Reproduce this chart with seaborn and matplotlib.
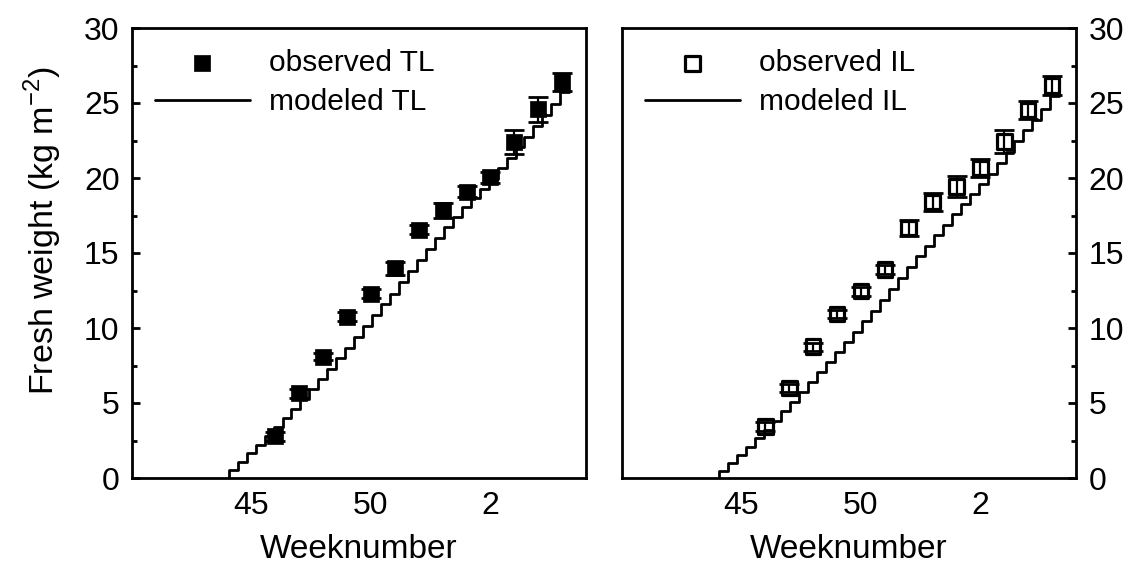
import matplotlib
matplotlib.use("Agg")
import matplotlib.pyplot as plt
from matplotlib.ticker import FixedLocator, MultipleLocator
import seaborn as sns

# Week numbers run on past week 53 into the new year: 54 = week 1, 55 = week 2, ...
obs_week = [46, 47, 48, 49, 50, 51, 52, 53, 54, 55, 56, 57, 58]
obs_TL = [2.8, 5.65, 8.1, 10.74, 12.3, 13.97, 16.56, 17.84, 19.1, 20.04, 22.38, 24.58, 26.4]
se_TL = [0.3, 0.3, 0.25, 0.3, 0.3, 0.45, 0.3, 0.5, 0.35, 0.35, 0.8, 0.85, 0.62]
obs_IL = [3.43, 5.99, 8.75, 10.93, 12.46, 13.9, 16.66, 18.41, 19.42, 20.66, 22.43, 24.52, 26.15]
se_IL = [0.3, 0.25, 0.25, 0.25, 0.3, 0.3, 0.55, 0.6, 0.7, 0.6, 0.75, 0.6, 0.63]

# Simulated crop fresh weight, output every 2.6 days
model_week = [44.05, 44.425, 44.80, 45.175, 45.55, 45.925, 46.30, 46.675, 47.05,
              47.425, 47.80, 48.175, 48.55, 48.925, 49.30, 49.675, 50.05, 50.425,
              50.80, 51.175, 51.55, 51.925, 52.30, 52.675, 53.05, 53.425, 53.80,
              54.175, 54.55, 54.925, 55.30, 55.675, 56.05, 56.425, 56.80, 57.175,
              57.55, 57.925, 58.30]
model_TL = [0.0, 0.53, 1.09, 1.64, 2.20, 2.78, 3.38, 3.98, 4.60, 5.25, 5.92, 6.60,
            7.28, 7.98, 8.68, 9.40, 10.12, 10.85, 11.58, 12.30, 13.05, 13.80, 14.55,
            15.30, 16.02, 16.72, 17.40, 18.05, 18.68, 19.30, 19.95, 20.65, 21.35,
            22.05, 22.75, 23.45, 24.20, 24.95, 25.75]
model_IL = [0.0, 0.50, 1.02, 1.55, 2.10, 2.65, 3.22, 3.82, 4.45, 5.08, 5.72, 6.38,
            7.05, 7.72, 8.40, 9.08, 9.76, 10.45, 11.15, 11.85, 12.58, 13.32, 14.05,
            14.78, 15.50, 16.20, 16.90, 17.58, 18.25, 18.92, 19.60, 20.30, 21.02,
            21.75, 22.48, 23.20, 23.90, 24.60, 25.45]

week_ticks = [45, 50, 55]
week_labels = ["45", "50", "2"]

sns.set_style("white")
plt.rcParams["font.family"] = ["Liberation Sans", "DejaVu Sans"]
plt.rcParams["mathtext.fontset"] = "custom"
plt.rcParams["mathtext.rm"] = "Liberation Sans"
for key in ("text.color", "axes.labelcolor", "xtick.color", "ytick.color",
            "axes.edgecolor"):
    plt.rcParams[key] = "black"

fig = plt.figure(figsize=(11.31, 5.67), dpi=100)
ax1 = fig.add_axes([132 / 1131, 89 / 567, 454 / 1131, 450 / 567])
ax2 = fig.add_axes([622 / 1131, 89 / 567, 454 / 1131, 450 / 567])


def draw_panel(ax, obs, se, model, tag, filled):
    ax.errorbar(obs_week, obs, yerr=se, fmt="none", ecolor="black",
                elinewidth=1.6, capsize=7, capthick=2, zorder=2)
    if filled:
        sns.scatterplot(x=obs_week, y=obs, ax=ax, marker="s", s=135,
                        color="black", edgecolor="black", linewidth=0.5, zorder=3)
    else:
        sns.scatterplot(x=obs_week, y=obs, ax=ax, marker="s", s=110,
                        facecolor="none", edgecolor="black", linewidth=2.3, zorder=3)
    sns.lineplot(x=model_week, y=model, ax=ax, color="black", lw=2,
                 drawstyle="steps-pre", estimator=None, sort=False, zorder=2)

    pts = ax.collections[-1]
    line = ax.lines[-1]
    ax.legend([pts, line], [f"observed {tag}", f"modeled {tag}"],
              loc="upper left", bbox_to_anchor=(0.05, 0.953), frameon=False,
              fontsize=21.5, handlelength=3.2, handletextpad=0.62,
              labelspacing=0.38, borderpad=0, borderaxespad=0, scatterpoints=1)

    ax.set_xlim(40, 59)
    ax.set_ylim(0, 30)
    ax.xaxis.set_major_locator(FixedLocator(week_ticks))
    ax.set_xticklabels(week_labels)
    ax.xaxis.set_minor_locator(MultipleLocator(2.5))
    ax.yaxis.set_major_locator(MultipleLocator(5))
    ax.yaxis.set_minor_locator(MultipleLocator(2.5))
    ax.tick_params(which="both", direction="in", width=2, colors="black",
                   labelsize=23, top=False)
    ax.tick_params(which="major", length=6, pad=9)
    ax.tick_params(which="minor", length=3.5)
    for sp in ax.spines.values():
        sp.set_visible(True)
        sp.set_linewidth(2)
        sp.set_color("black")
    ax.set_xlabel("Weeknumber", fontsize=24, labelpad=10)


draw_panel(ax1, obs_TL, se_TL, model_TL, "TL", True)
draw_panel(ax2, obs_IL, se_IL, model_IL, "IL", False)

ax1.tick_params(axis="y", which="both", left=True, right=False,
                labelleft=True, labelright=False)
ax1.set_ylabel("Fresh weight (kg m$^{\\mathregular{-2}}$)", fontsize=24.5)
ax1.yaxis.set_label_coords(-0.15, 0.55)

ax2.yaxis.tick_right()
ax2.tick_params(axis="y", which="both", left=False, right=True,
                labelleft=False, labelright=True)
ax2.set_ylabel("")

fig.savefig("out.png", dpi=100, facecolor="white")
